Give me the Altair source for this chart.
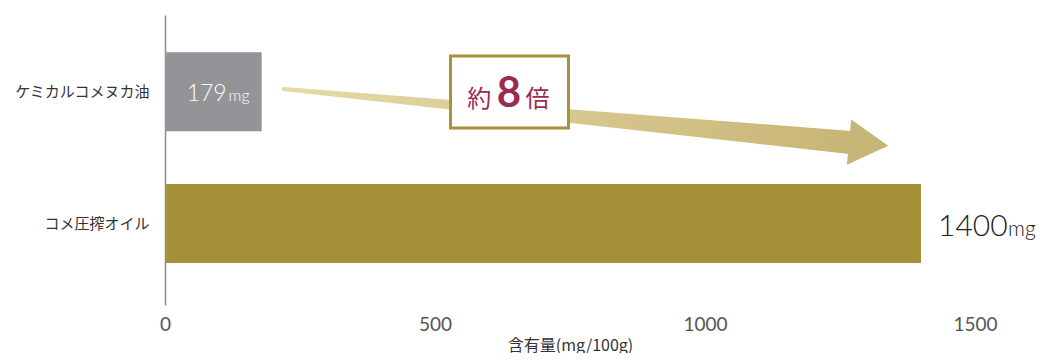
import altair as alt
import pandas as pd

# ---- data ----
categories = ["ケミカルコメヌカ油", "コメ圧搾オイル"]
values = [179, 1400]
bar_colors = ["#939497", "#a69138"]
value_texts = ["179", "1400"]
unit_text = "mg"
x_ticks = [0, 500, 1000, 1500]
x_title = "含有量(mg/100g)"
ratio_texts = ["約", "8", "倍"]

bars = pd.DataFrame({"cat": categories, "value": values, "color": bar_colors,
                     "num": value_texts, "unit": [unit_text, unit_text]})

# ---- annotation geometry (x in mg, y in plot pixels from top) ----
arrow = pd.DataFrame({"x": [220, 1269], "y": [74, 127.5], "w": [4, 23], "o": [0, 1]})
head = pd.DataFrame({"x": [1303], "y": [129]})
box = pd.DataFrame({"x": [528.7], "x2": [747.2], "y": [41], "y2": [113]})
ratio = pd.DataFrame({"t": ratio_texts, "x": [582, 637, 690], "y": [92, 92, 92],
                      "s": [24, 42, 24]})

FONT = "Noto Sans CJK JP"
NUMFONT = "Lato"

xs = alt.Scale(domain=[0, 1500])
ys_pix = alt.Scale(domain=[0, 290], reverse=True)

base = alt.Chart(bars)

bar_layer = base.mark_bar().encode(
    x=alt.X("value:Q", scale=xs,
            axis=alt.Axis(values=x_ticks, format="d", title=x_title, grid=False,
                          ticks=False, domain=False, labelFlush=False,
                          labelFont=NUMFONT, labelFontSize=19,
                          labelColor="#555555", labelPadding=10, titleFont=FONT,
                          titleFontSize=16, titleFontWeight="normal",
                          titleColor="#333333", titlePadding=3)),
    y=alt.Y("cat:N", sort=categories,
            scale=alt.Scale(paddingInner=0.4, paddingOuter=0.3, align=0.47),
            axis=alt.Axis(title=None, ticks=False, domainColor="#8a8a8a",
                          domainWidth=1.5, labelFont=FONT, labelFontSize=15,
                          labelColor="#333333", labelPadding=16)),
    color=alt.Color("color:N", scale=None),
)

yb = alt.Y("cat:N", sort=categories)

num1 = base.transform_filter(alt.datum.value < 500).mark_text(
    align="right", baseline="alphabetic", dx=-35, dy=9.7, fontSize=23,
    font=NUMFONT, fontWeight=300, color="white").encode(
    x=alt.X("value:Q", scale=xs), y=yb, text="num:N")
unit1 = base.transform_filter(alt.datum.value < 500).mark_text(
    align="right", baseline="alphabetic", dx=-12, dy=9.7, fontSize=16,
    font=NUMFONT, fontWeight=300, color="white").encode(
    x=alt.X("value:Q", scale=xs), y=yb, text="unit:N")
num2 = base.transform_filter(alt.datum.value >= 500).mark_text(
    align="left", baseline="alphabetic", dx=17, dy=12, fontSize=30,
    font=NUMFONT, fontWeight=300, color="#222222").encode(
    x=alt.X("value:Q", scale=xs), y=yb, text="num:N")
unit2 = base.transform_filter(alt.datum.value >= 500).mark_text(
    align="left", baseline="alphabetic", dx=87, dy=12, fontSize=21,
    font=NUMFONT, fontWeight=300, color="#222222").encode(
    x=alt.X("value:Q", scale=xs), y=yb, text="unit:N")

cat_layers = alt.layer(bar_layer, num1, unit1, num2, unit2)

grad = alt.LinearGradient(gradient="linear", x1=0, x2=1, y1=0, y2=0,
                          stops=[alt.GradientStop(offset=0, color="#e5daa8"),
                                 alt.GradientStop(offset=1, color="#c8b575")])

trail = alt.Chart(arrow).mark_trail(color=grad).encode(
    x=alt.X("x:Q", scale=xs),
    y=alt.Y("y:Q", scale=ys_pix, axis=None),
    size=alt.Size("w:Q", scale=None, legend=None),
    order="o:Q",
)
arrow_head = alt.Chart(head).mark_point(
    shape="triangle-right", filled=True, size=2060, angle=5.4,
    color="#c7b477", opacity=1, strokeWidth=0).encode(
    x=alt.X("x:Q", scale=xs), y=alt.Y("y:Q", scale=ys_pix, axis=None))
box_layer = alt.Chart(box).mark_rect(
    fill="white", stroke="#a8923a", strokeWidth=3).encode(
    x=alt.X("x:Q", scale=xs), x2="x2:Q",
    y=alt.Y("y:Q", scale=ys_pix, axis=None), y2="y2:Q")
ratio_small = alt.Chart(ratio).transform_filter(alt.datum.s < 30).mark_text(
    baseline="alphabetic", align="center", font=FONT, color="#9a2b52").encode(
    x=alt.X("x:Q", scale=xs), y=alt.Y("y:Q", scale=ys_pix, axis=None),
    text="t:N", size=alt.Size("s:Q", scale=None, legend=None))
ratio_big = alt.Chart(ratio).transform_filter(alt.datum.s >= 30).mark_text(
    baseline="alphabetic", align="center", font=NUMFONT, fontWeight="bold",
    color="#9a2b52").encode(
    x=alt.X("x:Q", scale=xs), y=alt.Y("y:Q", scale=ys_pix, axis=None),
    text="t:N", size=alt.Size("s:Q", scale=None, legend=None))

deco = alt.layer(trail, arrow_head, box_layer, ratio_small, ratio_big)

chart = alt.layer(cat_layers, deco).resolve_scale(y="independent").properties(
    width=810, height=290, background="white",
    padding={"left": 5, "top": 7, "right": 0, "bottom": 0},
).configure_view(strokeWidth=0, stroke="transparent")

chart.save("out.html", embed_options={"renderer": "svg", "actions": False})
